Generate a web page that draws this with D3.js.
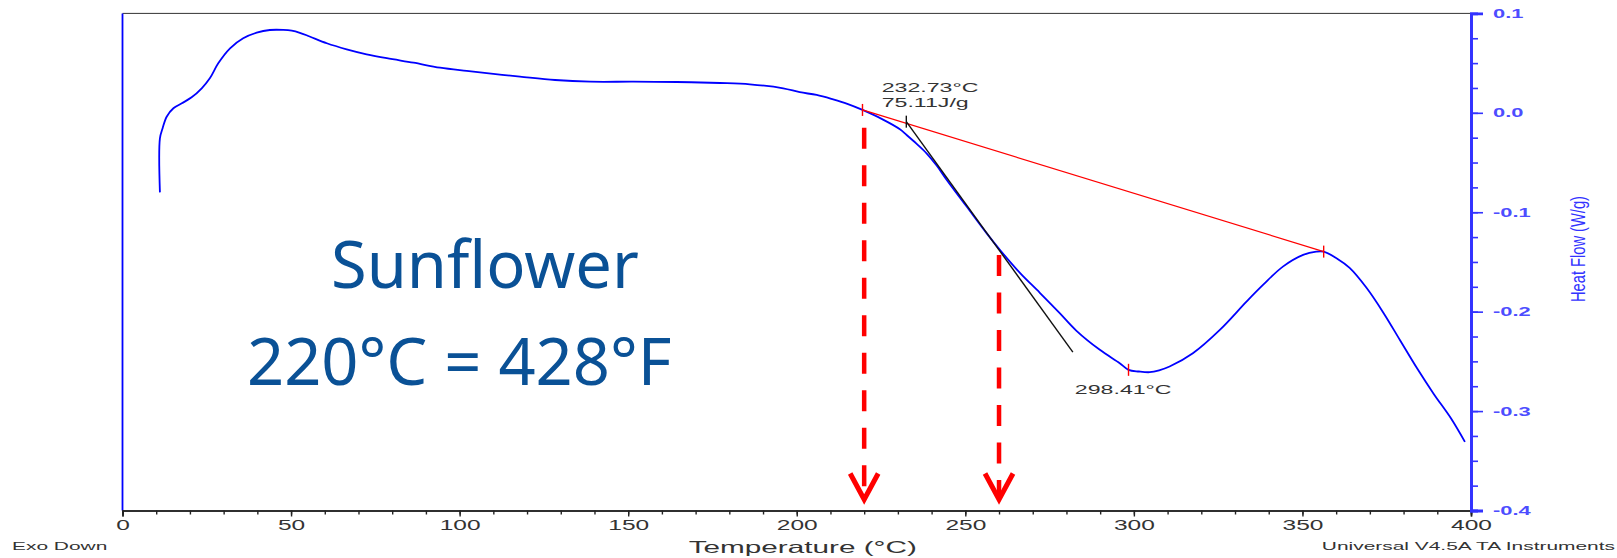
<!DOCTYPE html>
<html>
<head>
<meta charset="utf-8">
<script src="https://cdn.jsdelivr.net/npm/d3@7"></script>
<style>
  html, body { margin: 0; padding: 0; background: #fff; }
  svg { display: block; }
</style>
</head>
<body>
<div id="chart"></div>
<script>
// DSC trace (temperature in °C, heat flow in W/g)
const temps = [11.1, 11.1, 11.9, 13.1, 15.1, 17.6, 20.5, 23.5, 25.9, 28.4, 31.9, 35.8, 39.8, 43.7, 47.7,
  50.2, 52.6, 55.5, 60.6, 66.5, 72.4, 78.4, 86.3, 94.2, 102.1, 110, 117.9, 128.3, 138.7, 151.5, 164.4,
  177.2, 186.1, 196, 200.9, 205.9, 210.8, 215, 219.5, 225.6, 230.6, 232.6, 235.5, 238.5, 241.5,
  244.5, 250.4, 256.3, 260.3, 266.2, 272.1, 278, 282.9, 289.9, 295.8, 298.4, 301.5, 304.7, 307.5,
  310.6, 317.5, 325.5, 333.4, 338.3, 344.2, 350.2, 354.1, 356.3, 360.1, 364, 369,
  374, 379, 384, 389, 394, 398.2];
const heatFlow = [-0.080, -0.0256, -0.0155, -0.0039, 0.0046, 0.0096, 0.0156, 0.0247, 0.0347, 0.0498,
  0.0649, 0.075, 0.0806, 0.0833, 0.0834, 0.0826, 0.0805, 0.0768, 0.070, 0.0639, 0.0589, 0.0549, 0.0504,
  0.0454, 0.0421, 0.0391, 0.0364, 0.033, 0.0313, 0.0313, 0.031, 0.030, 0.0287, 0.0247, 0.0207,
  0.018, 0.0135, 0.009, 0.0029, -0.0068, -0.0165, -0.0223, -0.031, -0.0407, -0.053, -0.0675,
  -0.0943, -0.121, -0.138, -0.161, -0.181, -0.2015, -0.219, -0.2384, -0.2518, -0.2585, -0.2602,
  -0.2609, -0.259, -0.2552, -0.2418, -0.2183, -0.1899, -0.1731, -0.1547, -0.1429,
  -0.1396, -0.1396, -0.1462, -0.156, -0.176, -0.201, -0.229, -0.257, -0.283, -0.307, -0.331];

// Axis ticks
const xMajorTicks = [0, 50, 100, 150, 200, 250, 300, 350, 400];
const yMajorTicks = [0.1, 0.0, -0.1, -0.2, -0.3, -0.4];
const yTickLabels = ["0.1", "0.0", "-0.1", "-0.2", "-0.3", "-0.4"];

// Analysis marks
const baselineTemps = [219.5, 356.3];
const baselineFlow = [0.0029, -0.1396];
const tangentTemps = [232.5, 281.9];
const tangentFlow = [-0.0089, -0.2407];
const peakTemp = 298.41;
const peakFlow = -0.2585;
const onsetLabel = ["232.73°C", "75.11J/g"];
const peakLabel = "298.41°C";

// Red arrows (smoke points)
const arrowTemps = [220, 260];
const arrowTopFlow = [-0.015, -0.143];
const arrowTipFlow = -0.391;

const titleLines = ["Sunflower", "220°C = 428°F"];

class DscChart {
  constructor(_config) {
    this.config = {
      parentElement: _config.parentElement,
      containerWidth: _config.containerWidth || 1617,
      containerHeight: _config.containerHeight || 558,
      margin: { top: 13.4, bottom: 47.5, right: 146, left: 122.5 }
    }
    this.initVis();
  }

  // stretch small instrument text sideways, like the original export
  stretch(sel, sx) {
    sel.each(function() {
      const w = this.getComputedTextLength();
      d3.select(this).attr('textLength', w * sx).attr('lengthAdjust', 'spacingAndGlyphs');
    });
  }

  initVis() {
    let vis = this;
    const c = vis.config;
    c.innerWidth = c.containerWidth - c.margin.left - c.margin.right;
    c.innerHeight = c.containerHeight - c.margin.top - c.margin.bottom;

    vis.svg = d3.select(c.parentElement).append('svg')
      .attr('width', c.containerWidth)
      .attr('height', c.containerHeight)
      .style('font-family', '"Liberation Sans", Arial, sans-serif');

    vis.xScale = d3.scaleLinear().domain([0, 400]).range([c.margin.left, c.margin.left + c.innerWidth]);
    vis.yScale = d3.scaleLinear().domain([-0.4, 0.1]).range([c.margin.top + c.innerHeight, c.margin.top]);

    vis.renderFrame();
    vis.renderCurve();
    vis.renderAnalysis();
    vis.renderArrows();
    vis.renderText();
  }

  renderFrame() {
    let vis = this;
    const x = vis.xScale, y = vis.yScale;
    const x0 = x.range()[0], x1 = x.range()[1];
    const yTop = y.range()[1], yBot = y.range()[0];

    // top border and left blue border
    vis.svg.append('line').attr('x1', x0).attr('x2', x1).attr('y1', yTop).attr('y2', yTop)
      .attr('stroke', '#333').attr('stroke-width', 1);
    vis.svg.append('line').attr('x1', x0).attr('x2', x0).attr('y1', yTop).attr('y2', yBot)
      .attr('stroke', '#0000ff').attr('stroke-width', 1.8);

    // x axis: minor every 10, major every 50
    const xMinor = d3.axisBottom(x).tickValues(d3.range(0, 401, 10)).tickSize(4).tickFormat('');
    const xMajor = d3.axisBottom(x).tickValues(xMajorTicks).tickSize(6).tickPadding(6).tickFormat(d3.format('d'));
    const gxm = vis.svg.append('g').attr('transform', `translate(0,${yBot})`).call(xMinor);
    const gx = vis.svg.append('g').attr('transform', `translate(0,${yBot})`).call(xMajor);
    [gxm, gx].forEach(g => {
      g.select('.domain').attr('stroke', '#222').attr('stroke-width', 1.6);
      g.selectAll('.tick line').attr('stroke', '#222').attr('stroke-width', 1.4);
    });
    gx.selectAll('.tick text')
      .attr('fill', '#333').style('font-size', '14px').attr('y', 10);
    vis.stretch(gx.selectAll('.tick text'), 1.75);

    // right heat flow axis: minor every 0.025, major every 0.1
    const yMinor = d3.axisRight(y).tickValues(d3.range(-0.4, 0.1001, 0.025)).tickSize(7).tickFormat('');
    const yMajor = d3.axisRight(y).tickValues(yMajorTicks).tickSize(12).tickPadding(10)
      .tickFormat((d, i) => yTickLabels[i]);
    const gym = vis.svg.append('g').attr('transform', `translate(${x1},0)`).call(yMinor);
    const gy = vis.svg.append('g').attr('transform', `translate(${x1},0)`).call(yMajor);
    [gym, gy].forEach(g => {
      g.select('.domain').attr('stroke', '#3333ff').attr('stroke-width', 2.8);
      g.selectAll('.tick line').attr('stroke', '#3333ff').attr('stroke-width', 1.6);
    });
    gy.selectAll('.tick text')
      .attr('fill', '#4d4dff').style('font-size', '12.5px').style('font-weight', 'bold');
    vis.stretch(gy.selectAll('.tick text'), 1.75);

    // axis titles
    const tt = vis.svg.append('text')
      .attr('x', x(200) + 6).attr('y', yBot + 42)
      .attr('text-anchor', 'middle')
      .attr('fill', '#333').style('font-size', '16.5px')
      .text('Temperature (°C)');
    vis.stretch(tt, 1.8);

    const yl = vis.svg.append('text')
      .attr('transform', `translate(${x1 + 114},${y(-0.137)}) scale(1.45,1) rotate(-90)`)
      .attr('text-anchor', 'middle')
      .attr('fill', '#3333ff').style('font-size', '14px')
      .text('Heat Flow (W/g)');
    yl.attr('textLength', 106).attr('lengthAdjust', 'spacingAndGlyphs');

    const exo = vis.svg.append('text')
      .attr('x', 12).attr('y', yBot + 39)
      .attr('fill', '#333').style('font-size', '11px')
      .text('Exo Down');
    vis.stretch(exo, 1.9);

    const ver = vis.svg.append('text')
      .attr('x', vis.config.containerWidth - 2).attr('y', yBot + 39)
      .attr('text-anchor', 'end')
      .attr('fill', '#333').style('font-size', '11px')
      .text('Universal V4.5A TA Instruments');
    vis.stretch(ver, 1.9);
  }

  renderCurve() {
    let vis = this;
    const pts = temps.map((t, i) => [t, heatFlow[i]]);
    const line = d3.line()
      .x(d => vis.xScale(d[0]))
      .y(d => vis.yScale(d[1]))
      .curve(d3.curveCatmullRom.alpha(0.5));
    vis.svg.append('path')
      .datum(pts)
      .attr('d', line)
      .attr('fill', 'none')
      .attr('stroke', '#0000ff')
      .attr('stroke-width', 1.8);
  }

  renderAnalysis() {
    let vis = this;
    const x = vis.xScale, y = vis.yScale;

    // integration baseline
    vis.svg.append('line')
      .attr('x1', x(baselineTemps[0])).attr('y1', y(baselineFlow[0]))
      .attr('x2', x(baselineTemps[1])).attr('y2', y(baselineFlow[1]))
      .attr('stroke', '#ff0000').attr('stroke-width', 1.2);

    // onset tangent
    vis.svg.append('line')
      .attr('x1', x(tangentTemps[0])).attr('y1', y(tangentFlow[0]))
      .attr('x2', x(tangentTemps[1])).attr('y2', y(tangentFlow[1]))
      .attr('stroke', '#111').attr('stroke-width', 1.4);

    const marks = [
      { t: baselineTemps[0], f: baselineFlow[0], c: '#ff0000' },
      { t: baselineTemps[1], f: baselineFlow[1], c: '#ff0000' },
      { t: peakTemp, f: peakFlow, c: '#ff0000' },
      { t: tangentTemps[0], f: tangentFlow[0], c: '#111' }
    ];
    vis.svg.selectAll('.mark-tick').data(marks).join('line')
      .attr('class', 'mark-tick')
      .attr('x1', d => x(d.t)).attr('x2', d => x(d.t))
      .attr('y1', d => y(d.f) - 6).attr('y2', d => y(d.f) + 6)
      .attr('stroke', d => d.c).attr('stroke-width', 1.4);

    const on = vis.svg.selectAll('.onset-label').data(onsetLabel).join('text')
      .attr('class', 'onset-label')
      .attr('x', x(225.2))
      .attr('y', (d, i) => y(0.0205) + i * 15)
      .attr('fill', '#333').style('font-size', '12.5px')
      .text(d => d);
    vis.stretch(on, 1.85);

    const pk = vis.svg.append('text')
      .attr('x', x(282.5)).attr('y', y(-0.2827))
      .attr('fill', '#333').style('font-size', '12.5px')
      .text(peakLabel);
    vis.stretch(pk, 1.85);
  }

  renderArrows() {
    let vis = this;
    const x = vis.xScale, y = vis.yScale;
    const tip = y(arrowTipFlow);
    const g = vis.svg.append('g').attr('stroke', '#ff0000').attr('fill', 'none');

    g.selectAll('.arrow-shaft').data(arrowTemps).join('line')
      .attr('class', 'arrow-shaft')
      .attr('x1', d => x(d)).attr('x2', d => x(d))
      .attr('y1', (d, i) => y(arrowTopFlow[i]))
      .attr('y2', tip - 4)
      .attr('stroke-width', 4.5)
      .attr('stroke-dasharray', '21 16.5');

    g.selectAll('.arrow-head').data(arrowTemps).join('polyline')
      .attr('class', 'arrow-head')
      .attr('points', d => `${x(d) - 14},${tip - 28} ${x(d)},${tip - 2} ${x(d) + 14},${tip - 28}`)
      .attr('stroke-width', 5)
      .attr('stroke-linejoin', 'miter');
  }

  renderText() {
    let vis = this;
    vis.svg.selectAll('.title-line').data(titleLines).join('text')
      .attr('class', 'title-line')
      .attr('x', (d, i) => i === 0 ? 331 : 247)
      .attr('y', (d, i) => i === 0 ? 288 : 385)
      .attr('fill', '#0a5196')
      .style('font-family', '"Noto Sans", "Open Sans", sans-serif')
      .style('font-size', '65px')
      .text(d => d);
  }
}

new DscChart({ parentElement: '#chart' });
</script>
</body>
</html>
